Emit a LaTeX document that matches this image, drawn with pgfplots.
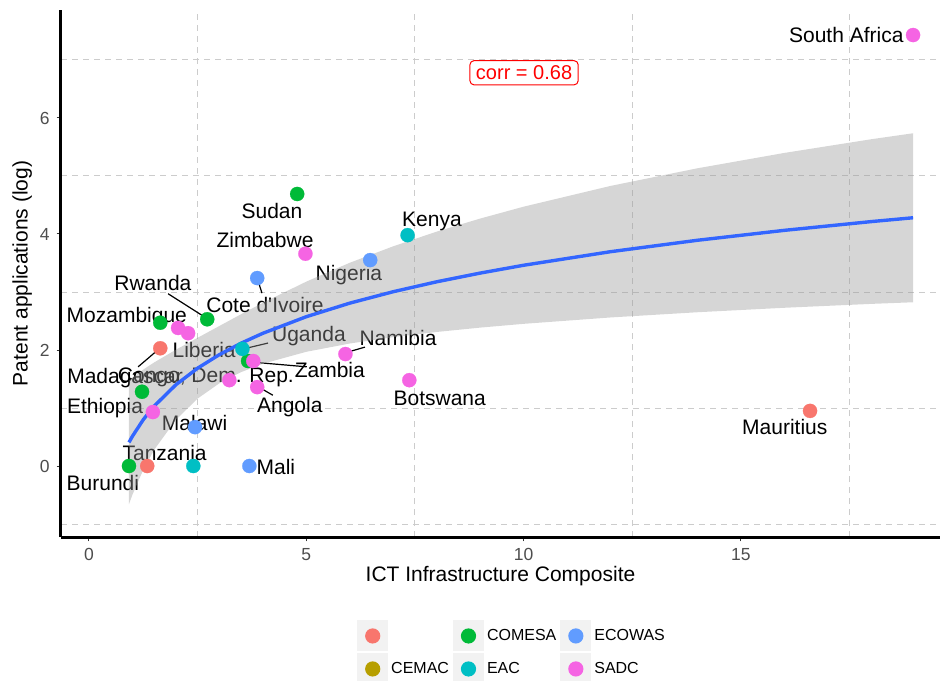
\documentclass[border=0pt]{standalone}
\usepackage{pgfplots}
\pgfplotsset{compat=1.18}
\usepackage{fontspec}
\setmainfont{Liberation Sans}
\newfontfamily\plainfont{Liberation Sans}
\definecolor{cRed}{HTML}{F8766D}
\definecolor{cCEMAC}{HTML}{B79F00}
\definecolor{cCOMESA}{HTML}{00BA38}
\definecolor{cEAC}{HTML}{00BFC4}
\definecolor{cECOWAS}{HTML}{619CFF}
\definecolor{cSADC}{HTML}{F564E3}
\definecolor{gridc}{HTML}{CCCCCC}
\definecolor{tickc}{HTML}{4D4D4D}
\definecolor{fitc}{HTML}{3366FF}
\begin{document}
\begin{tikzpicture}
\useasboundingbox (-30.5pt,-71.5pt) rectangle (440.5pt,268.5pt);
\begin{axis}[
  at={(0,0)}, anchor=south west,
  scale only axis, width=439.5pt, height=263.5pt,
  xmin=-0.644, xmax=19.58, ymin=-1.224, ymax=7.862,
  axis x line*=bottom, axis y line*=left,
  axis line style={-, line width=1.5pt, black},
  xtick={0,5,10,15}, ytick={0,2,4,6},
  minor xtick={2.5,7.5,12.5,17.5}, minor ytick={-1,1,3,5,7},
  minor grid style={gridc, line width=0.5pt, dash pattern=on 3pt off 2.5pt},
  xminorgrids, yminorgrids, minor tick length=0pt,
  tick align=outside, major tick length=2.2pt,
  major tick style={line width=0.5pt, black!80},
  tick label style={font=\fontsize{8.75}{10}\selectfont, text=tickc},
  /pgf/number format/assume math mode=true,
  xlabel={ICT Infrastructure Composite},
  ylabel={Patent applications (log)},
  label style={font=\fontsize{10.5}{12}\selectfont},
  xlabel style={yshift=4pt},
  ylabel style={yshift=-3pt},
  clip=false,
  legend columns=3,
  legend cell align=left,
  legend image code/.code={\fill[black!5] (0pt,-7.75pt) rectangle (15.5pt,7.75pt); \fill (7.75pt,0pt) circle (3.8pt);},
  legend style={at={(0.5137,-0.15)}, anchor=north, draw=none, fill=none,
    font=\fontsize{8}{9}\selectfont, row sep=1pt,
    nodes={inner xsep=1.5pt},
    /tikz/every even column/.append style={column sep=0.5pt}},
  pts/.style={only marks, mark=*, mark size=3.55pt, color=#1, mark options={line width=0.1pt}, forget plot},
]
% points
\addplot[pts=cRed] coordinates {
(16.59,0.95) (1.64,2.03) (1.34,0)};
\addplot[pts=cCOMESA] coordinates {
(4.79,4.69) (2.72,2.53) (1.64,2.47) (3.66,1.81) (1.22,1.28) (0.92,0)};
\addplot[pts=cEAC] coordinates {
(7.33,3.98) (3.53,2.02) (2.40,0)};
\addplot[pts=cECOWAS] coordinates {
(6.47,3.55) (3.87,3.24) (2.44,0.67) (3.69,0)};
\addplot[pts=cSADC] coordinates {
(18.96,7.43) (4.98,3.66) (2.05,2.38) (2.28,2.29) (3.78,1.81) (3.23,1.48) (3.87,1.36) (5.90,1.93) (7.37,1.48) (1.47,0.93)};
% label segments
\draw[line width=0.6pt] (axis cs:3.87,3.24) -- (axis cs:3.98,2.98);
\draw[line width=0.6pt] (axis cs:1.82,2.97) -- (axis cs:2.68,2.56);
\draw[line width=0.6pt] (axis cs:3.56,2.02) -- (axis cs:4.12,2.12);
\draw[line width=0.6pt] (axis cs:3.77,1.79) -- (axis cs:5.01,1.71);
\draw[line width=0.6pt] (axis cs:5.89,1.95) -- (axis cs:6.35,2.05);
\draw[line width=0.6pt] (axis cs:1.63,2.03) -- (axis cs:1.13,1.71);
\draw[line width=0.6pt] (axis cs:3.86,1.38) -- (axis cs:4.23,1.22);
% labels
\begin{scope}[every node/.style={font=\fontsize{10.5}{12}\plainfont, inner sep=0pt}]
\node[anchor=east] at (axis cs:18.75,7.43) {South Africa};
\node at (axis cs:16.01,0.67) {Mauritius};
\node at (axis cs:4.21,4.40) {Sudan};
\node at (axis cs:7.89,4.22) {Kenya};
\node at (axis cs:4.05,3.90) {Zimbabwe};
\node at (axis cs:5.98,3.29) {Nigeria};
\node at (axis cs:4.05,2.78) {Cote d'Ivoire};
\node at (axis cs:1.47,3.16) {Rwanda};
\node at (axis cs:0.87,2.57) {Mozambique};
\node at (axis cs:2.65,2.00) {Liberia};
\node at (axis cs:5.06,2.24) {Uganda};
\node at (axis cs:5.54,1.66) {Zambia};
\node at (axis cs:7.11,2.21) {Namibia};
\node at (axis cs:8.07,1.16) {Botswana};
\node at (axis cs:0.83,1.52) {Madagascar};
\node at (axis cs:2.69,1.52) {Congo, Dem. Rep.};
\node at (axis cs:4.62,1.02) {Angola};
\node at (axis cs:0.37,1.00) {Ethiopia};
\node at (axis cs:2.43,0.74) {Malawi};
\node at (axis cs:1.74,0.22) {Tanzania};
\node at (axis cs:0.32,-0.29) {Burundi};
\node at (axis cs:4.30,-0.02) {Mali};
\end{scope}
% confidence band
\addplot[draw=none, fill=black!40, fill opacity=0.4, forget plot] coordinates {
(0.92,1.471) (1.0,1.522) (1.25,1.663) (1.5,1.786) (2,2.005) (2.5,2.211) (3,2.414) (3.5,2.617) (4,2.813) (5,3.179) (6,3.504) (7,3.788) (8,4.041) (9,4.266) (10,4.471) (12,4.829) (14,5.133) (16,5.398) (18,5.634) (18.96,5.737)
(18.96,2.823) (18,2.795) (16,2.728) (14,2.651) (12,2.561) (10,2.451) (9,2.386) (8,2.311) (7,2.222) (6,2.112) (5,1.969) (4,1.763) (3.5,1.619) (3,1.426) (2.5,1.163) (2,0.797) (1.5,0.280) (1.25,-0.063) (1.0,-0.494) (0.92,-0.657)};
% fit
\addplot[fitc, line width=1.7pt, forget plot] coordinates {
(0.92,0.407) (1.0,0.514) (1.25,0.800) (1.5,1.033) (2,1.401) (2.5,1.687) (3,1.920) (3.5,2.118) (4,2.288) (5,2.574) (6,2.808) (7,3.005) (8,3.176) (9,3.326) (10,3.461) (12,3.695) (14,3.892) (16,4.063) (18,4.214) (18.96,4.280)};
\node[draw=red, text=red, rounded corners=2pt, line width=0.5pt, inner xsep=3pt, inner ysep=2.5pt, font=\fontsize{10}{12}\selectfont] at (axis cs:10.01,6.78) {corr = 0.68};
% legend
\addlegendimage{fill=cRed, draw=none}\addlegendentry{\strut}
\addlegendimage{fill=cCOMESA, draw=none}\addlegendentry{COMESA}
\addlegendimage{fill=cECOWAS, draw=none}\addlegendentry{ECOWAS}
\addlegendimage{fill=cCEMAC, draw=none}\addlegendentry{CEMAC}
\addlegendimage{fill=cEAC, draw=none}\addlegendentry{EAC}
\addlegendimage{fill=cSADC, draw=none}\addlegendentry{SADC}
\end{axis}
\end{tikzpicture}
\end{document}
